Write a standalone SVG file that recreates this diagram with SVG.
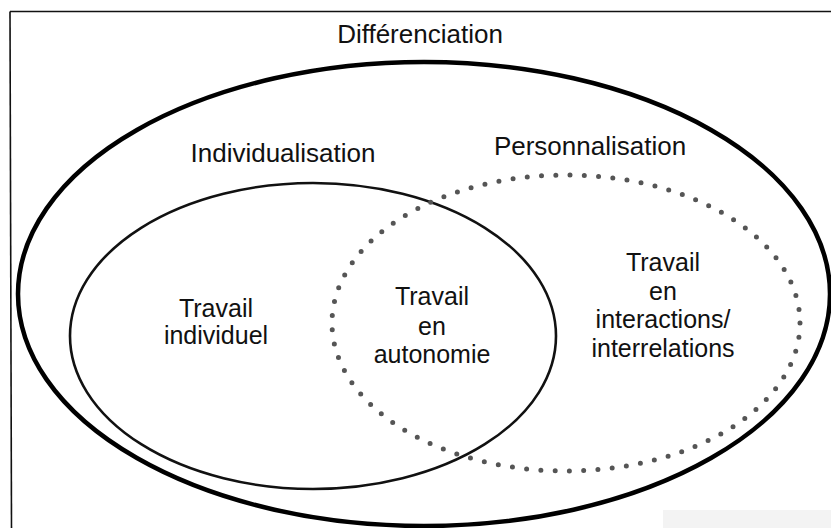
<svg xmlns="http://www.w3.org/2000/svg" width="831" height="528" viewBox="0 0 831 528">
<style>
text{font-family:"Liberation Sans",Arial,sans-serif;fill:#111;text-anchor:middle}
.h{font-size:26px}
.b{font-size:25px}
.frame{stroke:#111;stroke-width:1.6;fill:none}
</style>
<rect width="831" height="528" fill="#fff"/>
<rect x="663" y="510" width="168" height="18" fill="#f3f3f3"/>
<g id="frame">
<line class="frame" x1="10" y1="11.5" x2="831" y2="11.5"/>
<line class="frame" x1="10" y1="11.5" x2="11.5" y2="528"/>
</g>
<g id="differenciation">
<ellipse cx="424" cy="294" rx="406" ry="232" fill="none" stroke="#000" stroke-width="4.5"/>
<text class="h" x="420" y="43">Différenciation</text>
</g>
<g id="individualisation">
<ellipse cx="313" cy="336" rx="243" ry="153" fill="none" stroke="#111" stroke-width="2.6"/>
<text class="h" x="283" y="162">Individualisation</text>
</g>
<g id="personnalisation">
<ellipse cx="566" cy="323" rx="234" ry="148" fill="none" stroke="#555" stroke-width="5" stroke-linecap="round" stroke-dasharray="0 14.3"/>
<text class="h" x="590" y="155">Personnalisation</text>
</g>
<g id="travail-individuel">
<text class="b" x="216" y="317">Travail</text>
<text class="b" x="216" y="344">individuel</text>
</g>
<g id="travail-autonomie">
<text class="b" x="432" y="305">Travail</text>
<text class="b" x="432" y="335">en</text>
<text class="b" x="432" y="363">autonomie</text>
</g>
<g id="travail-interactions">
<text class="b" x="663" y="271">Travail</text>
<text class="b" x="663" y="300">en</text>
<text class="b" x="663" y="328">interactions/</text>
<text class="b" x="663" y="357">interrelations</text>
</g>
<g id="connectors"></g>
</svg>
